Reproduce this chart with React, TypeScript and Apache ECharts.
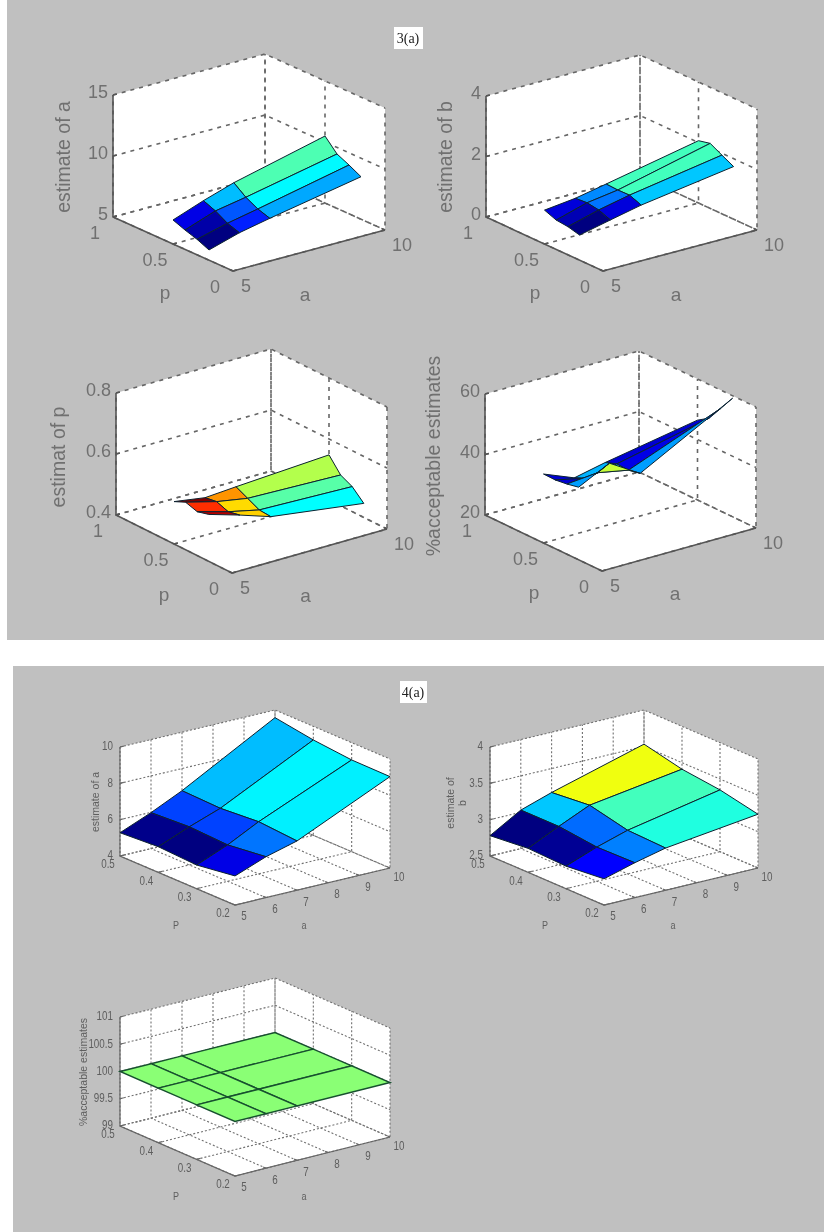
import React, { useEffect, useRef } from "react";
import * as echarts from "echarts";

const WIDTH = 824;
const HEIGHT = 1232;

// surface grid shared by all panels (rows = p, columns = a)
const gridA = [5, 6, 7, 10];
const gridP = [0.5, 0.4, 0.3, 0.2];

// heights
const fig3EstimateA = [
  [6.97, 7.88, 8.68, 10.49],
  [6.59, 7.48, 7.93, 9.46],
  [6.27, 6.91, 7.41, 9.0],
  [5.84, 6.58, 7.09, 8.48],
];
const fig3EstimateB = [
  [1.12, 1.24, 1.44, 2.06],
  [0.97, 1.27, 1.42, 2.15],
  [0.93, 1.21, 1.43, 1.94],
  [0.83, 1.06, 1.28, 1.74],
];
const fig3EstimateP = [
  [0.539, 0.523, 0.53, 0.548],
  [0.556, 0.529, 0.511, 0.501],
  [0.544, 0.515, 0.492, 0.482],
  [0.554, 0.523, 0.489, 0.446],
];
const fig3Acceptable = [
  [42.8, 38.7, 40.9, 46.4],
  [42.7, 40.4, 42.3, 48.9],
  [43.2, 44.1, 42.1, 54.0],
  [44.0, 49.1, 42.9, 59.2],
];
const fig4EstimateA = [
  [5.28, 5.98, 6.78, 9.58],
  [5.41, 6.1, 6.71, 9.25],
  [5.3, 6.0, 6.87, 9.05],
  [5.6, 6.25, 6.71, 9.03],
];
const fig4EstimateB = [
  [2.78, 3.03, 3.17, 3.53],
  [2.83, 3.03, 3.22, 3.41],
  [2.81, 2.97, 3.1, 3.35],
  [2.86, 2.98, 3.08, 3.24],
];
const fig4Acceptable = [
  [100, 100, 100, 100],
  [100, 100, 100, 100],
  [100, 100, 100, 100],
  [100, 100, 100, 100],
];

// face colour index on the jet colour map (0..1), rows = p strips, columns = a strips
const fig3EstimateAColor = [
  [0.1, 0.31, 0.45],
  [0.04, 0.21, 0.37],
  [0.0, 0.155, 0.29],
];
const fig3EstimateBColor = [
  [0.09, 0.26, 0.44],
  [0.05, 0.24, 0.44],
  [0.0, 0.09, 0.32],
];
const fig3EstimatePColor = [
  [1.0, 0.73, 0.55],
  [0.83, 0.66, 0.46],
  [0.95, 0.67, 0.375],
];
const fig3AcceptableColor = [
  [0.08, 0.3, 0.08],
  [0.08, 0.32, 0.1],
  [0.28, 0.57, 0.28],
];
const fig4EstimateAColor = [
  [0.01, 0.19, 0.31],
  [0.0, 0.19, 0.365],
  [0.1, 0.24, 0.36],
];
const fig4EstimateBColor = [
  [0.0, 0.32, 0.61],
  [0.02, 0.23, 0.44],
  [0.125, 0.25, 0.405],
];
const fig4AcceptableColor = [
  [0.51, 0.51, 0.51],
  [0.51, 0.51, 0.51],
  [0.51, 0.51, 0.51],
];

// tick labels
const coarseATicks = [5, 10];
const coarsePTicks = [0, 0.5, 1];
const fineATicks = [5, 6, 7, 8, 9, 10];
const fineTickP = [0.2, 0.3, 0.4, 0.5];

type Vec = [number, number];
type Panel = {
  z: number[][];
  c: number[][];
  zTicks: number[];
  zLabels: string[];
  aTicks: number[];
  pTicks: number[];
  pLabels: string[];
  title: string;
  pName: string;
  front: Vec;
  ua: Vec;
  up: Vec;
  uzLen: number;
  titlePos: Vec;
  big: boolean;
};

const big = (extra: Partial<Panel>) =>
  ({ aTicks: coarseATicks, pTicks: coarsePTicks, pLabels: ["0", "0.5", "1"], pName: "p", big: true, ...extra }) as Panel;
const small = (extra: Partial<Panel>) =>
  ({ aTicks: fineATicks, pTicks: fineTickP, pLabels: ["0.2", "0.3", "0.4", "0.5"], pName: "P", big: false, ...extra }) as Panel;

const panels: Panel[] = [
  big({ z: fig3EstimateA, c: fig3EstimateAColor, zTicks: [5, 10, 15], zLabels: ["5", "10", "15"], title: "estimate of a",
    front: [233, 271], ua: [152, -41], up: [-120, -54], uzLen: 122, titlePos: [63, 157] }),
  big({ z: fig3EstimateB, c: fig3EstimateBColor, zTicks: [0, 2, 4], zLabels: ["0", "2", "4"], title: "estimate of b",
    front: [603, 271], ua: [154, -41], up: [-117, -54], uzLen: 121, titlePos: [445, 157] }),
  big({ z: fig3EstimateP, c: fig3EstimatePColor, zTicks: [0.4, 0.6, 0.8], zLabels: ["0.4", "0.6", "0.8"], title: "estimat of p",
    front: [232, 573], ua: [155, -44], up: [-116, -58], uzLen: 122, titlePos: [58, 457] }),
  big({ z: fig3Acceptable, c: fig3AcceptableColor, zTicks: [20, 40, 60], zLabels: ["20", "40", "60"], title: "%acceptable estimates",
    front: [602, 571], ua: [154, -43], up: [-117, -56], uzLen: 121, titlePos: [433, 456] }),
  small({ z: fig4EstimateA, c: fig4EstimateAColor, zTicks: [4, 6, 8, 10], zLabels: ["4", "6", "8", "10"], title: "estimate of a",
    front: [235, 905], ua: [155, -37], up: [-115, -49], uzLen: 109, titlePos: [95, 802] }),
  small({ z: fig4EstimateB, c: fig4EstimateBColor, zTicks: [2.5, 3, 3.5, 4], zLabels: ["2.5", "3", "3.5", "4"], title: "estimate of\nb",
    front: [604, 905], ua: [154, -37], up: [-114, -49], uzLen: 109, titlePos: [456, 803] }),
  small({ z: fig4Acceptable, c: fig4AcceptableColor, zTicks: [99, 99.5, 100, 100.5, 101], zLabels: ["99", "99.5", "100", "100.5", "101"], title: "%acceptable estimates",
    front: [235, 1176], ua: [155, -39], up: [-115, -50], uzLen: 109, titlePos: [83, 1072] }),
];

function jet(t: number): string {
  const clamp = (v: number) => Math.max(0, Math.min(1, v));
  const r = clamp(Math.min(4 * t - 1.5, -4 * t + 4.5));
  const g = clamp(Math.min(4 * t - 0.5, -4 * t + 3.5));
  const b = clamp(Math.min(4 * t + 0.5, -4 * t + 2.5));
  return `rgb(${Math.round(r * 255)},${Math.round(g * 255)},${Math.round(b * 255)})`;
}

function projector(panel: Panel) {
  const aMin = panel.aTicks[0];
  const aMax = panel.aTicks[panel.aTicks.length - 1];
  const pMin = panel.pTicks[0];
  const pMax = panel.pTicks[panel.pTicks.length - 1];
  const zMin = panel.zTicks[0];
  const zMax = panel.zTicks[panel.zTicks.length - 1];
  const to = (a: number, p: number, z: number): Vec => {
    const ta = (a - aMin) / (aMax - aMin);
    const tp = (p - pMin) / (pMax - pMin);
    const tz = (z - zMin) / (zMax - zMin);
    return [
      panel.front[0] + ta * panel.ua[0] + tp * panel.up[0],
      panel.front[1] + ta * panel.ua[1] + tp * panel.up[1] - tz * panel.uzLen,
    ];
  };
  return { to, aMin, aMax, pMin, pMax, zMin, zMax };
}

function frameSeries(panel: Panel) {
  const { to, aMin, aMax, pMin, pMax, zMin, zMax } = projector(panel);
  const gridStroke = panel.big ? "#666666" : "#707070";
  const gridDash = panel.big ? [4, 5] : [2, 2];
  const gridWidth = panel.big ? 1.6 : 1.1;
  const axisStroke = panel.big ? "#555555" : "#666666";
  const textFill = panel.big ? "#707070" : "#5e5e5e";
  const tickFont = panel.big ? 18 : 12;
  const titleFont = panel.big ? 19.5 : 10.5;
  const textScale = panel.big ? 1 : 0.82;

  return {
    type: "custom",
    coordinateSystem: "cartesian2d",
    xAxisIndex: 0,
    yAxisIndex: 0,
    z: 2,
    silent: true,
    data: [[0, 0]],
    renderItem: (_p: any, api: any) => {
      const c = (pt: Vec): Vec => api.coord(pt);
      const children: any[] = [];
      children.push({
        type: "polygon",
        shape: {
          points: [
            to(aMin, pMax, zMin), to(aMin, pMax, zMax), to(aMax, pMax, zMax), to(aMax, pMin, zMax),
            to(aMax, pMin, zMin), to(aMin, pMin, zMin),
          ].map(c),
        },
        style: { fill: "#ffffff", stroke: "none" },
      });
      const dashed = (pts: Vec[]) =>
        children.push({
          type: "polyline",
          shape: { points: pts.map(c) },
          style: { fill: "none", stroke: gridStroke, lineWidth: gridWidth, lineDash: gridDash },
        });
      panel.zTicks.forEach((z) => dashed([to(aMin, pMax, z), to(aMax, pMax, z), to(aMax, pMin, z)]));
      panel.aTicks.forEach((a) => dashed([to(a, pMin, zMin), to(a, pMax, zMin), to(a, pMax, zMax)]));
      panel.pTicks.forEach((p) => dashed([to(aMin, p, zMin), to(aMax, p, zMin), to(aMax, p, zMax)]));

      const solid = (pts: Vec[], w = panel.big ? 1.6 : 1.2) =>
        children.push({
          type: "polyline",
          shape: { points: pts.map(c) },
          style: { fill: "none", stroke: axisStroke, lineWidth: w },
        });
      solid([to(aMin, pMax, zMax), to(aMin, pMax, zMin), to(aMin, pMin, zMin), to(aMax, pMin, zMin)]);
      const tickA = (aMax - aMin) * 0.025;
      const tickP = (pMax - pMin) * 0.025;
      panel.zTicks.forEach((z) => solid([to(aMin, pMax, z), to(aMin + tickA, pMax, z)]));
      panel.aTicks.forEach((a) => solid([to(a, pMin, zMin), to(a, pMin + tickP, zMin)]));
      panel.pTicks.forEach((p) => solid([to(aMin, p, zMin), to(aMin + tickA, p, zMin)]));

      const label = (text: string, at: Vec, align: string, fontSize: number, rotation = 0, scaled = true) =>
        children.push({
          type: "text",
          x: c(at)[0],
          y: c(at)[1],
          rotation,
          scaleX: scaled ? textScale : 1,
          style: {
            text,
            fontFamily: "Liberation Sans",
            fontSize,
            lineHeight: fontSize * (fontSize < 11.5 ? 1.15 : 0.85),
            fill: textFill,
            align,
            verticalAlign: "middle",
          },
        });
      const shift = (pt: Vec, dx: number, dy: number): Vec => [pt[0] + dx, pt[1] + dy];
      panel.zTicks.forEach((z, i) => {
        const pt = to(aMin, pMax, z);
        label(panel.zLabels[i], shift(pt, panel.big ? -5 : -7, panel.big ? -3 : -1), "right", tickFont);
      });
      panel.pTicks.forEach((p, i) => {
        const pt = to(aMin, p, zMin);
        label(panel.pLabels[i], panel.big ? shift(pt, -18, 16) : shift(pt, -12, 8), "center", tickFont);
      });
      panel.aTicks.forEach((a) => {
        const pt = to(a, pMin, zMin);
        label(String(a), panel.big ? shift(pt, a === aMax ? 17 : 13, 15) : shift(pt, 9, a === aMax ? 9 : 11), "center", tickFont);
      });
      const f = to(aMin, pMin, zMin);
      const midA = to((aMin + aMax) / 2, pMin, zMin);
      label(panel.pName, panel.big ? shift(f, -68, 21) : shift(f, -59, 20), "center", panel.big ? 19 : 11);
      label("a", panel.big ? shift(midA, -4, 44) : shift(f, 69, 20), "center", panel.big ? 19 : 11);
      label(panel.title, panel.titlePos, "center", titleFont, Math.PI / 2, false);
      return { type: "group", children };
    },
  };
}

function surfaceSeries(panel: Panel) {
  const { to, aMin, aMax, pMin, pMax } = projector(panel);
  const edge = panel === panels[6] ? "#17502f" : "#0c2230";
  const faces: number[][] = [];
  for (let r = 0; r < gridP.length - 1; r++) {
    for (let k = 0; k < gridA.length - 1; k++) {
      faces.push([gridA[k], gridA[k + 1], gridP[r], gridP[r + 1], panel.z[r][k], panel.z[r][k + 1], panel.z[r + 1][k + 1], panel.z[r + 1][k], panel.c[r][k]]);
    }
  }
  const depth = (f: number[]) => (f[0] + f[1] - 2 * aMin) / (aMax - aMin) + (f[2] + f[3] - 2 * pMin) / (pMax - pMin);
  faces.sort((x, y) => depth(y) - depth(x));
  return {
    type: "custom",
    coordinateSystem: "cartesian2d",
    xAxisIndex: 0,
    yAxisIndex: 0,
    z: 3,
    silent: true,
    data: faces,
    renderItem: (_p: any, api: any) => {
      const v = (i: number) => api.value(i);
      const corners: Vec[] = [
        to(v(0), v(2), v(4)),
        to(v(1), v(2), v(5)),
        to(v(1), v(3), v(6)),
        to(v(0), v(3), v(7)),
      ];
      return {
        type: "polygon",
        shape: { points: corners.map((pt) => api.coord(pt)) },
        style: { fill: jet(v(8)), stroke: edge, lineWidth: panel === panels[6] ? 1.4 : 1 },
      };
    },
  };
}

export default function App() {
  const ref = useRef<HTMLDivElement>(null);
  useEffect(() => {
    document.body.style.margin = "0";
    document.body.style.background = "#ffffff";
    const chart = echarts.init(ref.current!, undefined, { renderer: "svg" });
    const rect = (x: number, y: number, width: number, height: number, fill: string) => ({
      type: "rect",
      shape: { x, y, width, height },
      style: { fill },
      silent: true,
    });
    const caption = (text: string, x: number, y: number) => ({
      type: "text",
      x,
      y,
      style: { text, fontFamily: "Liberation Serif", fontSize: 14, fill: "#222222", align: "center", verticalAlign: "middle" },
      silent: true,
    });
    chart.setOption({
      animation: false,
      backgroundColor: "#ffffff",
      grid: { left: 0, right: 0, top: 0, bottom: 0 },
      xAxis: { type: "value", min: 0, max: WIDTH, show: false },
      yAxis: { type: "value", min: 0, max: HEIGHT, inverse: true, show: false },
      graphic: [
        rect(7, 0, WIDTH - 7, 640, "#c0c0c0"),
        rect(13, 666, WIDTH - 13, HEIGHT - 666, "#c0c0c0"),
        rect(394, 27, 29, 22, "#ffffff"),
        rect(400, 681, 27, 22, "#ffffff"),
        caption("3(a)", 408, 38),
        caption("4(a)", 413, 692),
      ],
      series: panels.flatMap((p) => [frameSeries(p), surfaceSeries(p)]),
    });
    return () => chart.dispose();
  }, []);
  return <div ref={ref} style={{ width: WIDTH, height: HEIGHT, filter: "blur(0.75px)" }} />;
}
